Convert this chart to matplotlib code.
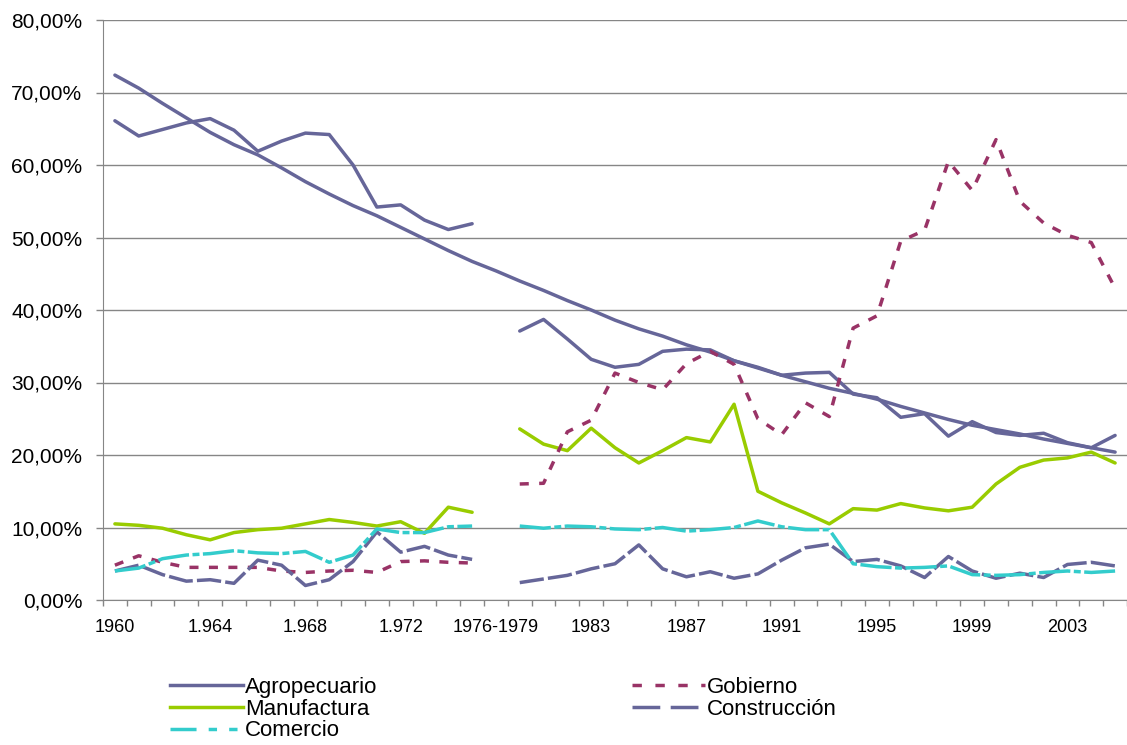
import numpy as np
import matplotlib
matplotlib.use('Agg')
import matplotlib.pyplot as plt
from matplotlib.lines import Line2D
from matplotlib.ticker import FuncFormatter

plt.rcParams['font.family'] = ['Liberation Sans', 'DejaVu Sans']

nan = np.nan

# categorias del eje x (1976-1979 es un hueco sin datos)
categorias = [str(a) for a in range(1960, 1976)] + ['1976-1979'] + [str(a) for a in range(1980, 2006)]
etiquetas = ['1960', '1.964', '1.968', '1.972', '1976-1979', '1983', '1987', '1991', '1995', '1999', '2003']

# participacion (%) por sector
agropecuario = [66.1, 64.0, 64.9, 65.8, 66.4, 64.8, 61.9, 63.3, 64.4, 64.2, 60.0, 54.2, 54.5, 52.4, 51.1, 51.9,
                nan,
                37.1, 38.7, 36.0, 33.2, 32.1, 32.5, 34.3, 34.6, 34.5, 33.0, 32.0, 31.0, 31.3, 31.4, 28.4,
                27.9, 25.2, 25.7, 22.6, 24.6, 23.1, 22.7, 23.0, 21.7, 21.0, 22.7]
tendencia = [72.4, 70.6, 68.5, 66.5, 64.5, 62.8, 61.4, 59.6, 57.7, 56.0, 54.4, 53.0, 51.4, 49.8, 48.2, 46.7,
             45.4,
             44.0, 42.7, 41.3, 40.0, 38.6, 37.4, 36.4, 35.2, 34.2, 33.0, 32.1, 31.0, 30.1, 29.2, 28.5,
             27.7, 26.7, 25.8, 24.9, 24.1, 23.5, 22.9, 22.2, 21.6, 21.0, 20.4]
gobierno = [4.8, 6.1, 5.2, 4.5, 4.5, 4.5, 4.5, 4.0, 3.8, 4.0, 4.1, 3.8, 5.3, 5.4, 5.2, 5.1,
            nan,
            16.0, 16.1, 23.2, 24.8, 31.3, 30.0, 29.0, 32.6, 34.3, 32.5, 25.0, 22.8, 27.2, 25.3, 37.5,
            39.2, 49.5, 51.0, 60.5, 56.5, 63.5, 55.0, 52.0, 50.3, 49.3, 43.0]
manufactura = [10.5, 10.3, 9.9, 9.0, 8.3, 9.3, 9.7, 9.9, 10.5, 11.1, 10.7, 10.2, 10.8, 9.2, 12.8, 12.1,
               nan,
               23.6, 21.5, 20.6, 23.7, 21.0, 18.9, 20.6, 22.4, 21.8, 27.0, 15.0, 13.4, 12.0, 10.5, 12.6,
               12.4, 13.3, 12.7, 12.3, 12.8, 16.0, 18.3, 19.3, 19.6, 20.4, 18.9]
construccion = [4.0, 4.8, 3.5, 2.6, 2.8, 2.3, 5.5, 4.8, 2.0, 2.8, 5.3, 9.4, 6.6, 7.4, 6.2, 5.6,
                nan,
                2.4, 2.9, 3.4, 4.3, 5.0, 7.6, 4.3, 3.2, 3.9, 3.0, 3.6, 5.5, 7.2, 7.7, 5.3,
                5.6, 4.7, 3.1, 6.0, 4.0, 3.0, 3.7, 3.1, 4.9, 5.2, 4.7]
comercio = [4.0, 4.4, 5.7, 6.2, 6.4, 6.8, 6.5, 6.4, 6.7, 5.2, 6.2, 9.8, 9.3, 9.3, 10.1, 10.2,
            nan,
            10.2, 9.9, 10.2, 10.1, 9.8, 9.7, 10.0, 9.5, 9.7, 10.0, 10.9, 10.1, 9.7, 9.7, 5.0,
            4.6, 4.4, 4.5, 4.7, 3.5, 3.4, 3.5, 3.8, 4.0, 3.8, 4.0]

morado = '#666699'
vino = '#993366'
verde = '#99CC00'
cian = '#33CCCC'
gris = '#868686'
lw = 2.5

W, H = 1127, 745
fig = plt.figure(figsize=(W / 100, H / 100), dpi=100)
ax = fig.add_axes([103 / W, 145 / H, 1024 / W, 580 / H])

x = np.arange(len(categorias))
ax.plot(x, tendencia, color=morado, lw=lw, solid_joinstyle='round', solid_capstyle='round')
ax.plot(x, agropecuario, color=morado, lw=lw, solid_joinstyle='round', solid_capstyle='round')
ax.plot(x, manufactura, color=verde, lw=lw, solid_joinstyle='round', solid_capstyle='round')
ax.plot(x, gobierno, color=vino, lw=lw, dashes=(2.6, 3.0))
ax.plot(x, construccion, color=morado, lw=lw, dashes=(7, 1.2))
ax.plot(x, comercio, color=cian, lw=lw, dashes=(9, 1.0, 2, 1.0))

ax.set_xlim(-0.5, len(categorias) - 0.5)
ax.set_ylim(0, 80)
ax.set_yticks(np.arange(0, 81, 10))
ax.yaxis.set_major_formatter(FuncFormatter(lambda v, p: f'{v:.2f}'.replace('.', ',') + '%'))
ax.yaxis.grid(True, color=gris, lw=1)
ax.set_axisbelow(True)

ax.set_xticks(x[::4])
ax.set_xticklabels(etiquetas)
ax.set_xticks(np.arange(-0.5, len(categorias), 1), minor=True)
ax.tick_params(axis='x', which='major', length=0, pad=14, labelsize=13)
ax.tick_params(axis='x', which='minor', length=4, color=gris, width=1)
ax.tick_params(axis='y', length=5, color=gris, width=1, pad=10, labelsize=15)

for s in ['top', 'right']:
    ax.spines[s].set_visible(False)
for s in ['left', 'bottom']:
    ax.spines[s].set_color(gris)

# leyenda en dos bloques como en el original
izq = [Line2D([], [], color=morado, lw=lw),
       Line2D([], [], color=verde, lw=lw),
       Line2D([], [], color=cian, lw=lw, dashes=(7.5, 3.5, 2.4, 3.5, 2.4, 3.5))]
der = [Line2D([], [], color=vino, lw=lw, dashes=(2.7, 3.9)),
       Line2D([], [], color=morado, lw=lw, dashes=(8, 3))]
opts = dict(loc='upper left', frameon=False, fontsize=16, handlelength=3.3, handletextpad=0.08,
            labelspacing=0.03, borderpad=0, borderaxespad=0)
fig.legend(izq, ['Agropecuario', 'Manufactura', 'Comercio'], bbox_to_anchor=(170 / W, 1 - 677 / H), **opts)
fig.legend(der, ['Gobierno', 'Construcción'], bbox_to_anchor=(632 / W, 1 - 677 / H), **opts)

fig.savefig('out.png', dpi=100)
